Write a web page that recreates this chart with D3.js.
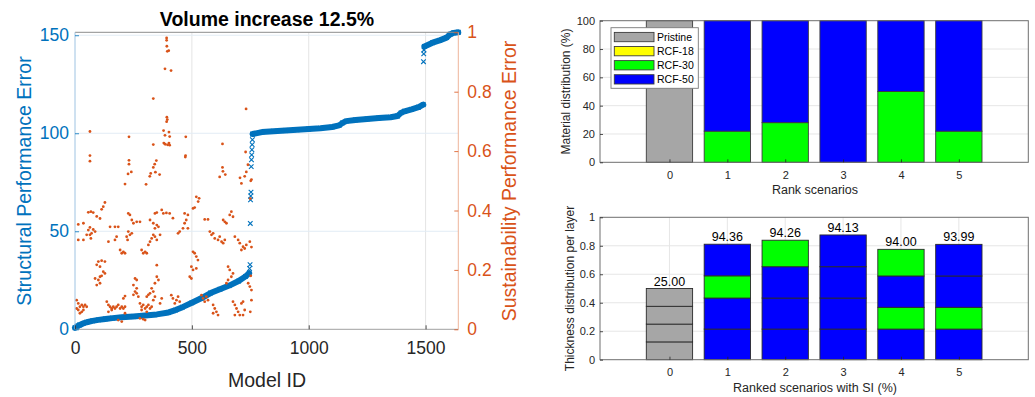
<!DOCTYPE html>
<html>
<head>
<meta charset="utf-8">
<script src="https://cdn.jsdelivr.net/npm/d3@7"></script>
<style>
  body { margin: 0; background: #fff; }
  svg { display: block; font-family: "Liberation Sans", Arial, Helvetica, sans-serif; }
</style>
</head>
<body>
<svg id="chart" width="1035" height="397"></svg>
<script>
// ---- left panel: structural error (sorted) ----
const structIdsA = [0, 10, 20, 35, 50, 75, 100, 130, 160, 200, 250, 300, 350, 400, 430, 460, 500, 540, 580, 620, 660, 700, 730, 745];
const structErrA = [0.8, 1.6, 2.2, 3.0, 3.6, 4.3, 4.8, 5.3, 5.7, 6.1, 6.5, 7.0, 7.6, 8.6, 9.8, 11.3, 13.5, 15.8, 18.5, 20.4, 22.3, 24.6, 27.0, 28.6];
const jumpIdsA = [747, 749, 750, 751, 752, 753, 754, 755, 756, 757, 758, 759];
const jumpErrA = [31, 33, 54, 66, 68, 70, 83, 86.5, 89, 91.6, 94.2, 96.7];
const structIdsB = [760, 800, 850, 900, 950, 1000, 1050, 1100, 1130, 1145, 1160, 1200, 1250, 1300, 1350, 1380, 1395, 1410, 1440, 1470, 1490];
const structErrB = [99.6, 100.6, 101.0, 101.4, 101.8, 102.2, 102.6, 103.2, 104.0, 105.3, 106.2, 106.8, 107.3, 107.8, 108.2, 108.8, 110.4, 111.2, 112.2, 113.3, 114.6];
const jumpIdsB = [1491, 1492, 1493];
const jumpErrB = [136.5, 140.5, 142.5];
const structIdsC = [1495, 1530, 1560, 1590, 1605, 1620, 1640];
const structErrC = [144.3, 146.2, 147.4, 148.8, 150.5, 151.2, 151.5];

// sustainability error per model (right axis): [model id, error]
const sustPoints = [
  [392,0.981],[392,0.973],[393,0.953],[395,0.936],[401,0.938],[385,0.877],[411,0.871],[335,0.777],[732,0.742],
  [393,0.714],[395,0.706],[392,0.699],[64,0.666],[379,0.669],[402,0.664],[385,0.653],[405,0.649],[231,0.648],[474,0.648],
  [380,0.627],[386,0.623],[396,0.621],[405,0.62],[402,0.627],[335,0.622],[631,0.624],[64,0.585],[64,0.566],[231,0.569],
  [231,0.556],[473,0.585],[472,0.58],[348,0.568],[341,0.556],[335,0.545],[324,0.525],[320,0.515],[241,0.53],[227,0.523],
  [344,0.529],[362,0.521],[631,0.545],[633,0.532],[643,0.521],[619,0.513],[730,0.597],[733,0.53],[740,0.554],[726,0.515],
  [706,0.51],[755,0.504],
  [214,0.489],[304,0.488],[128,0.427],[121,0.413],[114,0.404],[57,0.394],[68,0.396],[78,0.393],[93,0.38],[107,0.373],
  [14,0.353],[36,0.357],[64,0.343],[78,0.336],[57,0.334],[71,0.323],[64,0.318],[68,0.306],[50,0.318],[36,0.301],[14,0.301],[86,0.329],
  [150,0.345],[171,0.345],[185,0.345],[228,0.39],[235,0.385],[243,0.368],[250,0.357],[264,0.362],[278,0.362],
  [228,0.329],[235,0.318],[221,0.312],[225,0.301],[243,0.323],[143,0.295],[171,0.301],[178,0.312],
  [193,0.267],[207,0.261],[214,0.256],[200,0.256],[285,0.267],[300,0.261],[307,0.256],[292,0.256],
  [342,0.39],[350,0.393],[371,0.402],[378,0.39],[321,0.368],[335,0.357],[350,0.351],[342,0.34],[357,0.345],
  [335,0.318],[328,0.306],[321,0.295],[314,0.284],[342,0.312],[350,0.301],[364,0.318],
  [100,0.228],[93,0.217],[107,0.211],[114,0.231],[128,0.228],[121,0.194],[107,0.177],[86,0.171],[100,0.166],[93,0.149],
  [107,0.155],[128,0.188],[114,0.18],[257,0.171],[264,0.166],[250,0.149],[264,0.138],[257,0.127],[250,0.116],[264,0.121],
  [271,0.11],[207,0.104],[214,0.112],[350,0.177],[357,0.166],[342,0.155],[328,0.138],[321,0.121],[307,0.11],[314,0.116],
  [335,0.127],[350,0.216],
  [7,0.098],[14,0.087],[21,0.076],[29,0.082],[36,0.076],[43,0.082],[50,0.076],[14,0.065],[29,0.059],[21,0.054],[7,0.07],[36,0.065],
  [136,0.093],[143,0.082],[150,0.076],[157,0.07],[164,0.076],[171,0.07],[178,0.076],[185,0.082],[193,0.07],[200,0.076],
  [207,0.07],[214,0.076],[143,0.059],[157,0.065],[214,0.054],[185,0.031],[200,0.026],
  [278,0.087],[285,0.076],[292,0.082],[300,0.07],[307,0.076],[314,0.082],[321,0.07],[328,0.076],[285,0.065],[307,0.059],
  [278,0.037],[292,0.034],[300,0.031],[335,0.098],[342,0.11],[371,0.104],[364,0.087],
  [712,0.491],[519,0.446],[531,0.441],[527,0.43],[469,0.39],[483,0.385],[476,0.368],[469,0.357],[462,0.34],[448,0.329],
  [441,0.323],[483,0.34],[405,0.39],[419,0.374],[391,0.392],[505,0.407],[512,0.41],[555,0.37],[569,0.37],
  [634,0.368],[641,0.362],[648,0.357],[669,0.396],[662,0.385],[676,0.379],[577,0.329],[591,0.323],[584,0.318],
  [598,0.306],[612,0.301],[627,0.295],[634,0.29],[641,0.301],[619,0.312],
  [684,0.312],[698,0.301],[705,0.29],[719,0.278],[726,0.272],[712,0.267],[733,0.284],[748,0.295],
  [505,0.261],[512,0.256],[519,0.245],[526,0.233],[498,0.211],[505,0.2],[519,0.205],[491,0.177],[498,0.171],
  [655,0.211],[662,0.2],[676,0.188],[669,0.177],[655,0.166],[648,0.155],[741,0.155],[748,0.144],[755,0.132],
  [412,0.115],[419,0.104],[434,0.098],[441,0.11],[427,0.087],[448,0.093],[541,0.115],[548,0.104],[555,0.093],[562,0.11],[569,0.098],
  [591,0.082],[598,0.07],[605,0.059],[591,0.054],[612,0.048],[676,0.093],[684,0.082],[691,0.07],[698,0.059],[684,0.048],[705,0.048],
  [712,0.087],[719,0.093],[726,0.065],[719,0.048],
  [752,0.5],[750,0.44],[755,0.277],[752,0.18],[755,0.098],[750,0.059]
];

const modelTicks = [0, 500, 1000, 1500];
const structTicks = [0, 50, 100, 150];
const sustTicks = [0, 0.2, 0.4, 0.6, 0.8, 1];

// ---- right panels ----
const scenarios = [0, 1, 2, 3, 4, 5];
const materials = ['Pristine', 'RCF-18', 'RCF-30', 'RCF-50'];
const materialColors = ['#a6a6a6', '#ffff00', '#00ff00', '#0000ff'];
const sharePristine = [100, 0, 0, 0, 0, 0];
const shareRcf18 = [0, 0, 0, 0, 0, 0];
const shareRcf30 = [0, 22, 28, 0, 50, 22];
const shareRcf50 = [0, 78, 72, 100, 50, 78];
const shareTicks = [0, 20, 40, 60, 80, 100];

const layerMaterial = [
  ['Pristine', 'Pristine', 'Pristine', 'Pristine'],
  ['RCF-50', 'RCF-50', 'RCF-30', 'RCF-50'],
  ['RCF-50', 'RCF-50', 'RCF-50', 'RCF-30'],
  ['RCF-50', 'RCF-50', 'RCF-50', 'RCF-50'],
  ['RCF-50', 'RCF-30', 'RCF-50', 'RCF-30'],
  ['RCF-50', 'RCF-30', 'RCF-50', 'RCF-50']
];
const layerThickness = [
  [0.125, 0.125, 0.125, 0.125],
  [0.215, 0.218, 0.156, 0.222],
  [0.215, 0.218, 0.220, 0.186],
  [0.215, 0.218, 0.220, 0.223],
  [0.215, 0.153, 0.220, 0.187],
  [0.215, 0.153, 0.220, 0.222]
];
const siLabels = ['25.00', '94.36', '94.26', '94.13', '94.00', '93.99'];
const thickTicks = [0, 0.2, 0.4, 0.6, 0.8, 1];

const BLUE = '#0072bd', ORANGE = '#d95319', AXIS = '#262626';
const svg = d3.select('#chart');
svg.append('rect').attr('width', 1035).attr('height', 397).attr('fill', '#fff');

function styleAxis(g, color, size) {
  g.select('.domain').remove();
  g.selectAll('.tick line').attr('stroke', color).attr('stroke-width', 0.8);
  g.selectAll('.tick text').attr('fill', color).style('font-size', size + 'px');
}

// ================= left panel =================
const x = d3.scaleLinear().domain([0, 1640]).range([75, 458.3]);
const yL = d3.scaleLinear().domain([0, 151.5]).range([329.3, 32.3]);
const yR = d3.scaleLinear().domain([0, 1]).range([329.3, 32.3]);

const leftPanel = svg.append('g');
// grid
leftPanel.selectAll('.vgrid').data(modelTicks.slice(1)).enter().append('line')
  .attr('x1', d => x(d)).attr('x2', d => x(d)).attr('y1', yL(0)).attr('y2', yL(151.5))
  .attr('stroke', '#e4e4e4').attr('stroke-width', 1);
leftPanel.selectAll('.hgrid').data(structTicks.slice(1)).enter().append('line')
  .attr('x1', x(0)).attr('x2', x(1640)).attr('y1', d => yL(d)).attr('y2', d => yL(d))
  .attr('stroke', '#e2ecf5').attr('stroke-width', 1);

// blue band (dense x markers)
const line = d3.line().x(d => x(d[0])).y(d => yL(d[1]));
const segs = [d3.zip(structIdsA, structErrA), d3.zip(structIdsB, structErrB), d3.zip(structIdsC, structErrC)];
segs.forEach(s => {
  leftPanel.append('path').datum(s).attr('d', line).attr('fill', 'none')
    .attr('stroke', BLUE).attr('stroke-width', 6).attr('stroke-linecap', 'round').attr('stroke-linejoin', 'round');
});
const xMarks = d3.zip(structIdsA.concat(jumpIdsA, structIdsB, jumpIdsB, structIdsC),
  structErrA.concat(jumpErrA, structErrB, jumpErrB, structErrC));
leftPanel.selectAll('.xm').data(xMarks).enter().append('path')
  .attr('d', d => {
    const cx = x(d[0]), cy = yL(d[1]), r = 2.3;
    return `M${cx - r},${cy - r}L${cx + r},${cy + r}M${cx - r},${cy + r}L${cx + r},${cy - r}`;
  })
  .attr('stroke', BLUE).attr('stroke-width', 1.1).attr('fill', 'none');

// orange dots
leftPanel.selectAll('.dot').data(sustPoints).enter().append('circle')
  .attr('cx', d => x(d[0])).attr('cy', d => yR(d[1])).attr('r', 1.4).attr('fill', ORANGE);

// axes
leftPanel.append('line').attr('x1', x(0)).attr('x2', x(1640)).attr('y1', yL(151.5)).attr('y2', yL(151.5))
  .attr('stroke', '#8c8c8c').attr('stroke-width', 1);
leftPanel.append('line').attr('x1', x(0)).attr('x2', x(1640)).attr('y1', yL(0)).attr('y2', yL(0))
  .attr('stroke', '#a0a0a0').attr('stroke-width', 1);
leftPanel.append('line').attr('x1', x(0)).attr('x2', x(0)).attr('y1', yL(0)).attr('y2', yL(151.5))
  .attr('stroke', '#9ec3e2').attr('stroke-width', 1);
leftPanel.append('line').attr('x1', x(1640)).attr('x2', x(1640)).attr('y1', yL(0)).attr('y2', yL(151.5))
  .attr('stroke', '#eeb49a').attr('stroke-width', 1);

leftPanel.append('g').attr('transform', `translate(0,${yL(0)})`)
  .call(d3.axisBottom(x).tickValues(modelTicks).tickFormat(d3.format('d')).tickSizeInner(-4).tickSizeOuter(0).tickPadding(12))
  .call(g => styleAxis(g, AXIS, 17.5));
leftPanel.append('g').attr('transform', `translate(${x(0)},0)`)
  .call(d3.axisLeft(yL).tickValues(structTicks).tickSizeInner(-4).tickSizeOuter(0).tickPadding(6))
  .call(g => styleAxis(g, BLUE, 17.5));
leftPanel.append('g').attr('transform', `translate(${x(1640)},0)`)
  .call(d3.axisRight(yR).tickValues(sustTicks).tickSizeInner(-4).tickSizeOuter(0).tickPadding(9).tickFormat(d3.format('~g')))
  .call(g => styleAxis(g, ORANGE, 17.5));

leftPanel.append('text').attr('x', 267).attr('y', 26).attr('text-anchor', 'middle')
  .style('font-size', '19.5px').style('font-weight', 'bold').attr('fill', '#000').text('Volume increase 12.5%');
leftPanel.append('text').attr('x', 267).attr('y', 387).attr('text-anchor', 'middle')
  .style('font-size', '19.5px').attr('fill', AXIS).text('Model ID');
leftPanel.append('text').attr('transform', `translate(31,181) rotate(-90)`).attr('text-anchor', 'middle')
  .style('font-size', '19.5px').attr('fill', BLUE).text('Structural Performance Error');
leftPanel.append('text').attr('transform', `translate(516,181) rotate(-90)`).attr('text-anchor', 'middle')
  .style('font-size', '19.5px').attr('fill', ORANGE).text('Sustainability Performance Error');

// ================= right panels =================
const x2 = d3.scaleLinear().domain([-1.2, 6.2]).range([600, 1028.3]);
const barW = x2(0.4) - x2(0);

function frame(g, y, yTicks, yDomain) {
  g.selectAll('.vg').data(scenarios).enter().append('line')
    .attr('x1', d => x2(d)).attr('x2', d => x2(d)).attr('y1', y(yDomain[0])).attr('y2', y(yDomain[1]))
    .attr('stroke', '#e6e6e6');
  g.selectAll('.hg').data(yTicks.slice(1, -1)).enter().append('line')
    .attr('x1', x2(-1.2)).attr('x2', x2(6.2)).attr('y1', d => y(d)).attr('y2', d => y(d))
    .attr('stroke', '#e6e6e6');
}
function axesOver(g, y, yTicks, yDomain, fmt, xLabel, yLabel, yLabelX) {
  g.append('rect').attr('x', x2(-1.2)).attr('y', y(yDomain[1]))
    .attr('width', x2(6.2) - x2(-1.2)).attr('height', y(yDomain[0]) - y(yDomain[1]))
    .attr('fill', 'none').attr('stroke', '#6e6e6e').attr('stroke-width', 1);
  g.append('g').attr('transform', `translate(0,${y(yDomain[0])})`)
    .call(d3.axisBottom(x2).tickValues(scenarios).tickSizeInner(-3).tickSizeOuter(0).tickPadding(9))
    .call(a => styleAxis(a, AXIS, 11));
  g.append('g').attr('transform', `translate(${x2(-1.2)},0)`)
    .call(d3.axisLeft(y).tickValues(yTicks).tickSizeInner(-3).tickSizeOuter(0).tickPadding(5).tickFormat(fmt))
    .call(a => styleAxis(a, AXIS, 11));
  g.append('text').attr('x', 815).attr('y', y(yDomain[0]) + 32).attr('text-anchor', 'middle')
    .style('font-size', '12.5px').attr('fill', AXIS).text(xLabel);
  g.append('text').attr('transform', `translate(${yLabelX},${(y(yDomain[0]) + y(yDomain[1])) / 2}) rotate(-90)`)
    .attr('text-anchor', 'middle').style('font-size', '12px').attr('fill', AXIS).text(yLabel);
}

// top: material distribution
const yTop = d3.scaleLinear().domain([0, 100]).range([162.3, 20.7]);
const topPanel = svg.append('g');
frame(topPanel, yTop, shareTicks, [0, 100]);
const shares = [sharePristine, shareRcf18, shareRcf30, shareRcf50];
const stackRows = scenarios.map((s, i) => {
  const r = { s };
  materials.forEach((m, k) => { r[m] = shares[k][i]; });
  return r;
});
const stacked = d3.stack().keys(materials)(stackRows);
stacked.forEach((layer, k) => {
  topPanel.selectAll(null).data(layer.filter(d => d[1] - d[0] > 0)).enter().append('rect')
    .attr('x', d => x2(d.data.s) - barW).attr('width', 2 * barW)
    .attr('y', d => yTop(d[1])).attr('height', d => yTop(d[0]) - yTop(d[1]))
    .attr('fill', materialColors[k]).attr('stroke', '#3c3c3c').attr('stroke-width', 0.9);
});
axesOver(topPanel, yTop, shareTicks, [0, 100], d3.format('d'), 'Rank scenarios', 'Material distribution (%)', 570);

// legend
const leg = topPanel.append('g').attr('transform', 'translate(611,27.7)');
leg.append('rect').attr('width', 87.3).attr('height', 60.6).attr('fill', '#fff').attr('stroke', '#7a7a7a').attr('stroke-width', 0.9);
materials.forEach((m, k) => {
  const cy = 9.3 + k * 14.1;
  leg.append('rect').attr('x', 3.3).attr('y', cy - 4.6).attr('width', 39.7).attr('height', 9.3)
    .attr('fill', materialColors[k]).attr('stroke', '#3c3c3c').attr('stroke-width', 0.9);
  leg.append('text').attr('x', 46).attr('y', cy).attr('dy', '0.35em')
    .style('font-size', '10.5px').attr('fill', '#000').text(m);
});

// bottom: thickness per layer
const yBot = d3.scaleLinear().domain([0, 1]).range([359.7, 217.3]);
const botPanel = svg.append('g');
frame(botPanel, yBot, thickTicks, [0, 1]);
scenarios.forEach((s, i) => {
  const tops = d3.cumsum(layerThickness[i]);
  botPanel.selectAll(null).data(layerThickness[i]).enter().append('rect')
    .attr('x', x2(s) - barW).attr('width', 2 * barW)
    .attr('y', (d, k) => yBot(tops[k])).attr('height', d => yBot(0) - yBot(d))
    .attr('fill', (d, k) => materialColors[materials.indexOf(layerMaterial[i][k])])
    .attr('stroke', '#2a2a2a').attr('stroke-width', 0.9);
  botPanel.append('text').attr('x', x2(s)).attr('y', yBot(tops[tops.length - 1]) - 3)
    .attr('text-anchor', 'middle').style('font-size', '12.5px').attr('fill', '#000').text(siLabels[i]);
});
axesOver(botPanel, yBot, thickTicks, [0, 1], d3.format('~g'), 'Ranked scenarios with SI (%)', 'Thickness distribution per layer', 574);
</script>
</body>
</html>
